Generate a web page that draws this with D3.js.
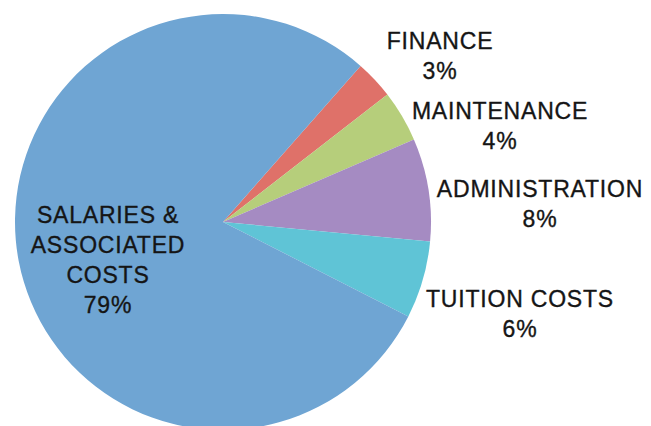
<!DOCTYPE html>
<html>
<head>
<meta charset="utf-8">
<script src="https://cdn.jsdelivr.net/npm/d3@7"></script>
<style>
  body { margin: 0; background: #fff; }
  text { font-family: "Liberation Sans", Arial, sans-serif; font-size: 23px; fill: #151515; stroke: #151515; stroke-width: 0.35px; letter-spacing: 0.8px; }
</style>
</head>
<body>
<div id="chart"></div>
<script>
// slices in clockwise order, starting at the Finance edge
const categories = ["FINANCE", "MAINTENANCE", "ADMINISTRATION", "TUITION COSTS", "SALARIES & ASSOCIATED COSTS"];
const values = [3, 4, 8, 6, 79];
const colors = ["#df7169", "#b6ce7b", "#a58bc2", "#5fc4d6", "#6fa5d3"];
// label lines as they appear on the picture
const labelLines = [
    ["FINANCE", "3%"],
    ["MAINTENANCE", "4%"],
    ["ADMINISTRATION", "8%"],
    ["TUITION COSTS", "6%"],
    ["SALARIES &", "ASSOCIATED", "COSTS", "79%"]
];
const labelPos = [[440, 49], [500, 119], [540, 197], [520, 307], [108, 223]];

const width = 651, height = 426;
const cx = 223, cy = 222, radius = 208;
const start = 41.4 * Math.PI / 180;

const svg = d3.select("#chart")
    .append("svg")
    .attr("width", width)
    .attr("height", height);

const pie = d3.pie()
    .sort(null)
    .startAngle(start)
    .endAngle(start + 2 * Math.PI)
    .value(d => d);

const arc = d3.arc()
    .innerRadius(0)
    .outerRadius(radius);

const g = svg.append("g")
    .attr("transform", `translate(${cx},${cy})`);

g.selectAll("path")
    .data(pie(values))
    .enter()
    .append("path")
    .attr("d", arc)
    .attr("fill", (d, i) => colors[i]);

const labels = svg.selectAll("text.lbl")
    .data(labelLines)
    .enter()
    .append("text")
    .attr("class", "lbl")
    .attr("text-anchor", "middle")
    .attr("x", (d, i) => labelPos[i][0])
    .attr("y", (d, i) => labelPos[i][1]);

labels.selectAll("tspan")
    .data(d => d)
    .enter()
    .append("tspan")
    .attr("x", function() { return this.parentNode.getAttribute("x"); })
    .attr("dy", (d, j) => j === 0 ? 0 : 30)
    .text(d => d);
</script>
</body>
</html>
